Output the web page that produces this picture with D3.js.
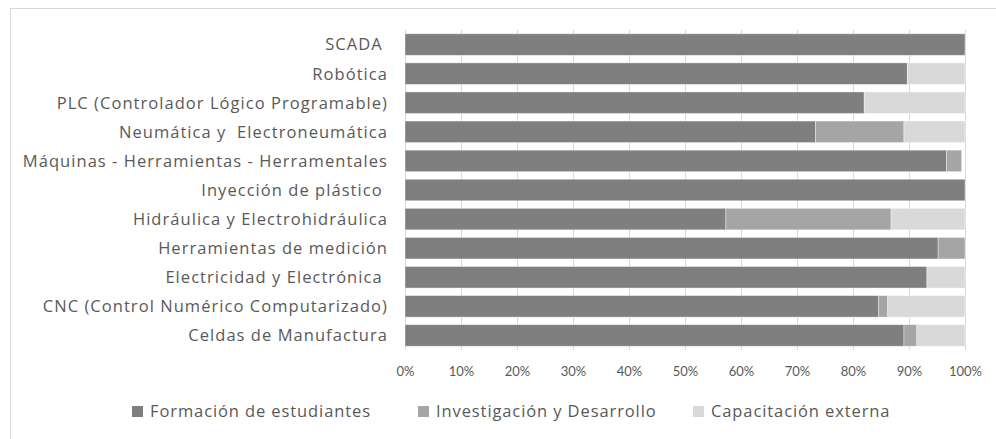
<!DOCTYPE html>
<html>
<head>
<meta charset="utf-8">
<script src="https://cdn.jsdelivr.net/npm/d3@7"></script>
<style>
  body { margin: 0; background: #fff; }
  svg text { font-family: "Open Sans", Lato, sans-serif; fill: #595959; white-space: pre; }
</style>
</head>
<body>
<div id="chart"></div>
<script>
const categories = [
    "SCADA ",
    "Robótica",
    "PLC (Controlador Lógico Programable)",
    "Neumática y  Electroneumática",
    "Máquinas - Herramientas - Herramentales",
    "Inyección de plástico ",
    "Hidráulica y Electrohidráulica",
    "Herramientas de medición",
    "Electricidad y Electrónica ",
    "CNC (Control Numérico Computarizado)",
    "Celdas de Manufactura"
];
const formacion     = [100, 89.7, 82.0, 73.3, 96.7, 100, 57.3, 95.2, 93.2, 84.6, 89.1];
const investigacion = [0,   0,    0,    15.8, 2.7,  0,   29.5, 4.8,  0,    1.6,  2.3];
const capacitacion  = [0,   10.3, 18.0, 10.9, 0,    0,   13.2, 0,    6.8,  13.8, 8.6];
const seriesNames = ["Formación de estudiantes", "Investigación y Desarrollo", "Capacitación externa"];
const seriesColors = ["#7f7f7f", "#a5a5a5", "#d9d9d9"];
const xTicks = [0, 10, 20, 30, 40, 50, 60, 70, 80, 90, 100];

function init() {
    const width = 996, height = 439;
    const margin = { top: 30, right: 31, bottom: 89, left: 405 };

    const svg = d3.select("#chart").append("svg")
        .attr("width", width)
        .attr("height", height);

    // outer frame
    svg.append("rect")
        .attr("x", 10.5).attr("y", 8.5)
        .attr("width", width + 20).attr("height", height + 20)
        .attr("fill", "none").attr("stroke", "#d9d9d9");

    const rows = categories.map((c, i) => ({
        cat: c, f: formacion[i], inv: investigacion[i], cap: capacitacion[i]
    }));

    const x = d3.scaleLinear().domain([0, 100])
        .range([margin.left, width - margin.right]);
    const y = d3.scaleBand().domain(categories)
        .range([margin.top, height - margin.bottom])
        .paddingInner(0.26).paddingOuter(0.13);

    // gridlines
    svg.append("g").selectAll("line")
        .data(xTicks).enter().append("line")
        .attr("x1", d => x(d) + 0.5).attr("x2", d => x(d) + 0.5)
        .attr("y1", margin.top).attr("y2", height - margin.bottom)
        .attr("stroke", "#d9d9d9").attr("stroke-width", 1);

    const stack = d3.stack().keys(["f", "inv", "cap"]);
    const layers = stack(rows);

    svg.append("g").selectAll("g")
        .data(layers).enter().append("g")
        .attr("fill", (d, i) => seriesColors[i])
        .selectAll("rect")
        .data(d => d).enter().append("rect")
        .attr("x", d => x(d[0]))
        .attr("width", d => Math.max(0, x(d[1]) - x(d[0])))
        .attr("y", d => y(d.data.cat))
        .attr("height", y.bandwidth())
        .attr("stroke", "#ffffff")
        .attr("stroke-opacity", 0.5)
        .attr("stroke-width", d => (d[1] - d[0]) > 0 ? 0.75 : 0);

    // category labels
    svg.append("g").selectAll("text")
        .data(categories).enter().append("text")
        .attr("x", margin.left - 17)
        .attr("y", d => y(d) + y.bandwidth() / 2)
        .attr("dy", "0.36em")
        .attr("text-anchor", "end")
        .style("font-size", "16.5px")
        .style("letter-spacing", "1.05px")
        .text(d => d);

    // x axis labels
    const xAxis = d3.axisBottom(x).tickValues(xTicks)
        .tickFormat(d => d + "%").tickSize(0).tickPadding(17);
    const gx = svg.append("g")
        .attr("transform", `translate(0,${height - margin.bottom})`)
        .call(xAxis);
    gx.select(".domain").remove();
    gx.selectAll("text").style("font-size", "13px").style("fill", "#595959")
        .style("font-family", "Lato, sans-serif");

    // legend
    const legendX = [132, 418, 693];
    const lg = svg.append("g").selectAll("g")
        .data(seriesNames).enter().append("g")
        .attr("transform", (d, i) => `translate(${legendX[i]},406)`);
    lg.append("rect").attr("width", 11).attr("height", 11)
        .attr("fill", (d, i) => seriesColors[i]);
    lg.append("text").attr("x", 18).attr("y", 5.5).attr("dy", "0.36em")
        .style("font-size", "16.5px").style("letter-spacing", "0.9px").text(d => d);
}

window.onload = init;
</script>
</body>
</html>
